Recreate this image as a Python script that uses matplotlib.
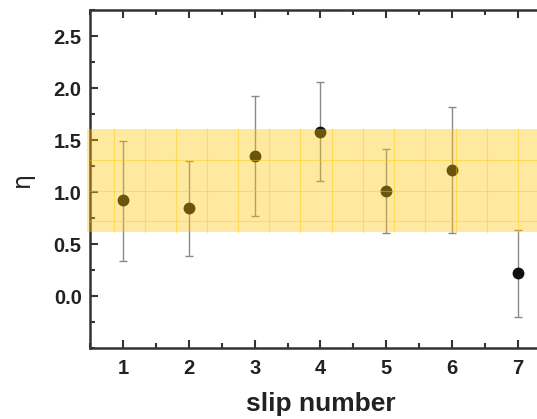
import numpy as np
import matplotlib
matplotlib.use('agg')
import matplotlib.pyplot as plt
from matplotlib.ticker import MultipleLocator

# data
slip = [1, 2, 3, 4, 5, 6, 7]
eta = [0.92, 0.85, 1.35, 1.58, 1.01, 1.21, 0.22]
err_hi = [1.49, 1.30, 1.92, 2.06, 1.41, 1.82, 0.63]
err_lo = [0.34, 0.38, 0.77, 1.11, 0.61, 0.61, -0.20]
band = [0.62, 1.61]

plt.rcParams['font.family'] = ['Liberation Sans', 'DejaVu Sans']

fig = plt.figure(figsize=(5.37, 4.19), dpi=100)
ax = fig.add_axes([90/537, 1 - 348/419, 461/537, 338/419])

yerr = [np.array(eta) - np.array(err_lo), np.array(err_hi) - np.array(eta)]
ax.errorbar(slip, eta, yerr=yerr, fmt='o', color='#111111', ms=7.5,
            ecolor='#8a8a8a', elinewidth=1, capsize=3, capthick=1, zorder=2)

# shaded band with graph-paper lines, drawn over the points
ax.axhspan(band[0], band[1], xmin=-0.006, color='#ffc505', alpha=0.38, lw=0, zorder=3, clip_on=False)
for y in [0.72, 1.01, 1.31]:
    ax.axhline(y, color='#ffcc00', lw=0.8, alpha=0.45, zorder=3)
for k in range(14):
    ax.plot([7 - k*0.472]*2, band, color='#ffcc00', lw=0.8, alpha=0.45, zorder=3)

ax.set_xlim(0.5, 7.5)
ax.set_ylim(-0.5, 2.75)
ax.set_xticks(slip)
ax.set_yticks([0.0, 0.5, 1.0, 1.5, 2.0, 2.5])
ax.set_yticklabels(['0.0', '0.5', '1.0', '1.5', '2.0', '2.5'])
ax.xaxis.set_minor_locator(MultipleLocator(0.5))
ax.yaxis.set_minor_locator(MultipleLocator(0.25))
ax.tick_params(which='both', direction='in', top=True, right=False, color='#333333', width=1.5)
ax.tick_params(which='major', length=6)
ax.tick_params(which='minor', length=3.5)
ax.tick_params(axis='y', labelsize=14.5, pad=6)
ax.tick_params(axis='x', labelsize=14.5, pad=8)
for lab in ax.get_xticklabels() + ax.get_yticklabels():
    lab.set_fontweight('bold')
    lab.set_color('#222222')
for s in ['left', 'bottom', 'top']:
    ax.spines[s].set_linewidth(1.8)
    ax.spines[s].set_color('#333333')
ax.spines['right'].set_visible(False)

ax.set_xlabel('slip number', fontsize=19, fontweight='bold', color='#222222', labelpad=10)
ax.set_ylabel('η', fontsize=17, color='#222222', labelpad=14, family=['DejaVu Sans'])

plt.savefig('out.png', dpi=100)
